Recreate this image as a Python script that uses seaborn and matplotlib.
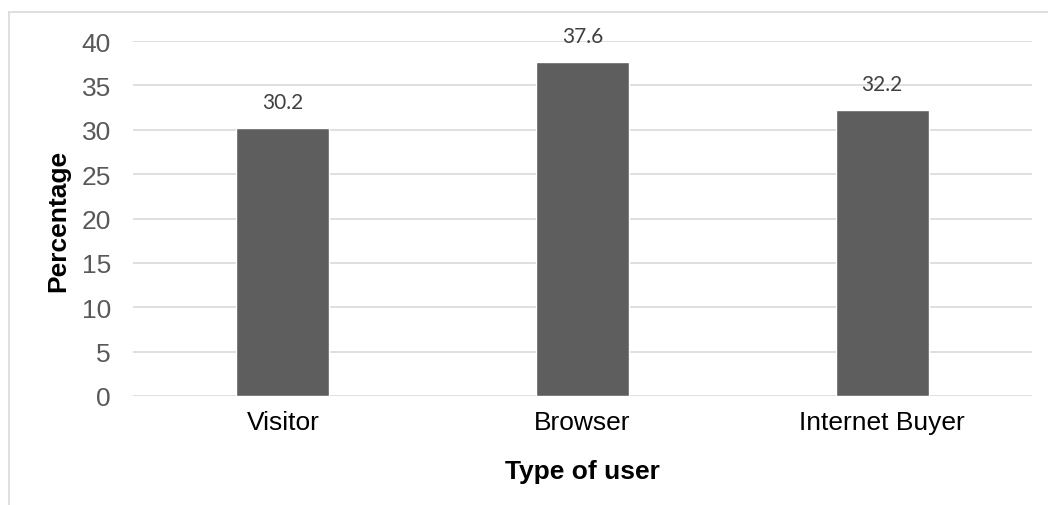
import matplotlib
matplotlib.use("Agg")
import matplotlib.pyplot as plt
from matplotlib.lines import Line2D
import seaborn as sns
import pandas as pd

user_types = ["Visitor", "Browser", "Internet Buyer"]
percentages = [30.2, 37.6, 32.2]
y_ticks = [0, 5, 10, 15, 20, 25, 30, 35, 40]

sns.set_theme(style="white")
plt.rcParams["font.family"] = ["Liberation Sans", "DejaVu Sans"]

df = pd.DataFrame({"type": user_types, "pct": percentages})

fig = plt.figure(figsize=(10.48, 5.06), dpi=100)
ax = fig.add_axes([133 / 1048, 109 / 506, 899 / 1048, 355 / 506])

sns.barplot(data=df, x="type", y="pct", color="#5e5e5e", saturation=1,
            width=0.31, ax=ax, zorder=3)

ax.set_ylim(0, 40)
ax.set_xlim(-0.5, 2.5)
ax.set_yticks(y_ticks)
ax.yaxis.grid(True, color="#d9d9d9", linewidth=1.2, zorder=0)
ax.set_axisbelow(True)
for s in ax.spines.values():
    s.set_visible(False)
ax.tick_params(axis="y", length=0, pad=16, labelsize=19, labelcolor="#595959")
ax.tick_params(axis="x", length=0, pad=10, labelsize=19, labelcolor="#000000")

ax.set_ylabel("Percentage", fontsize=19, fontweight="bold", color="#000000")
ax.set_xlabel("Type of user", fontsize=19, fontweight="bold", color="#000000")
ax.yaxis.set_label_coords(58 / 1048, 1 - 221 / 506, transform=fig.transFigure)
ax.xaxis.set_label_coords((133 + 899 / 2) / 1048, 1 - 472 / 506, transform=fig.transFigure)
ax.yaxis.label.set_va("center")
ax.xaxis.label.set_va("center")

for i, v in enumerate(percentages):
    ax.annotate(f"{v:.1f}", (i, v), xytext=(0, 19), textcoords="offset points",
                ha="center", va="center", fontsize=15, color="#404040",
                family=["Lato", "DejaVu Sans"])

# Chart frame (only the top and left edges fall inside the canvas)
fig.add_artist(Line2D([8.5 / 1048, 8.5 / 1048], [0, 1 - 12.5 / 506],
                      transform=fig.transFigure, color="#d9d9d9", linewidth=1.2))
fig.add_artist(Line2D([8.5 / 1048, 1], [1 - 12.5 / 506, 1 - 12.5 / 506],
                      transform=fig.transFigure, color="#d9d9d9", linewidth=1.2))

fig.savefig("out.png", dpi=100)
